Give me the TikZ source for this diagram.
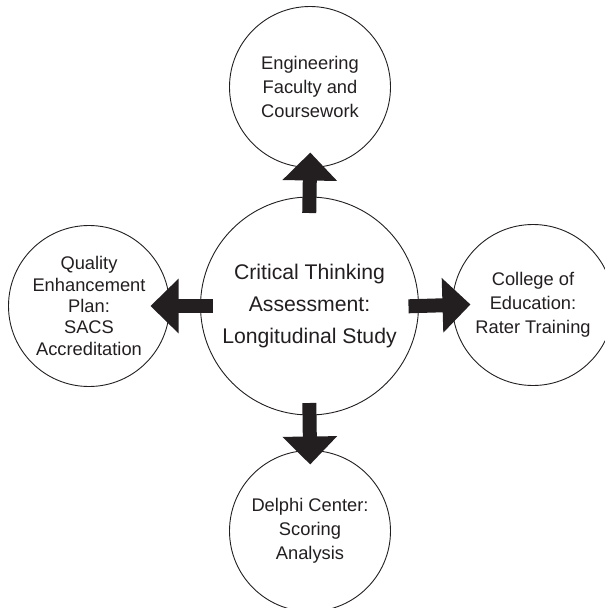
\documentclass[tikz,border=0pt]{standalone}
\usepackage{fontspec}
\setmainfont{Liberation Sans}
\usetikzlibrary{arrows.meta}
\definecolor{ink}{HTML}{231F20}
\begin{document}
\begin{tikzpicture}[x=1pt,y=-1pt,
  hub/.style={circle,draw=ink,line width=0.9pt,minimum size=218pt,inner sep=0pt,outer sep=0pt,
    align=center,text=ink,font=\fontsize{21.2}{32}\selectfont},
  spoke/.style={circle,draw=ink,line width=0.9pt,minimum size=161pt,inner sep=0pt,outer sep=0pt,
    align=center,text=ink,font=\fontsize{18.3}{24}\selectfont},
  flow/.style={draw=ink,line width=14pt,line cap=butt,
    -{Triangle[width=53pt,length=28pt]}}]
\useasboundingbox (0,0) rectangle (605,608);
\begin{scope}
\clip (0,0) rectangle (605,608);
\node[hub] (c) at (309.5,306) {Critical Thinking\\Assessment:\\Longitudinal Study};
\node[spoke] (top) at (310,87) {Engineering\\Faculty and\\Coursework};
\node[spoke,font=\fontsize{18.3}{21.3}\selectfont] (left) at (89,306)
  {Quality\\Enhancement\\Plan:\\SACS\\Accreditation};
\node[spoke] (right) at (533,305) {College of\\Education:\\Rater Training};
\node[spoke] (bottom) at (310,531) {Delphi Center:\\Scoring\\Analysis};
\end{scope}
\draw[flow,shorten <=-16pt,shorten >=-15pt] (c.north) -- (top.south);
\draw[flow,shorten <=-12pt,shorten >=-19pt] (c.west) -- (left.east);
\draw[flow,shorten <=-10pt,shorten >=-18pt] (c.east) -- (right.west);
\draw[flow,shorten <=-12pt,shorten >=-14pt] (c.south) -- (bottom.north);
\end{tikzpicture}
\end{document}
